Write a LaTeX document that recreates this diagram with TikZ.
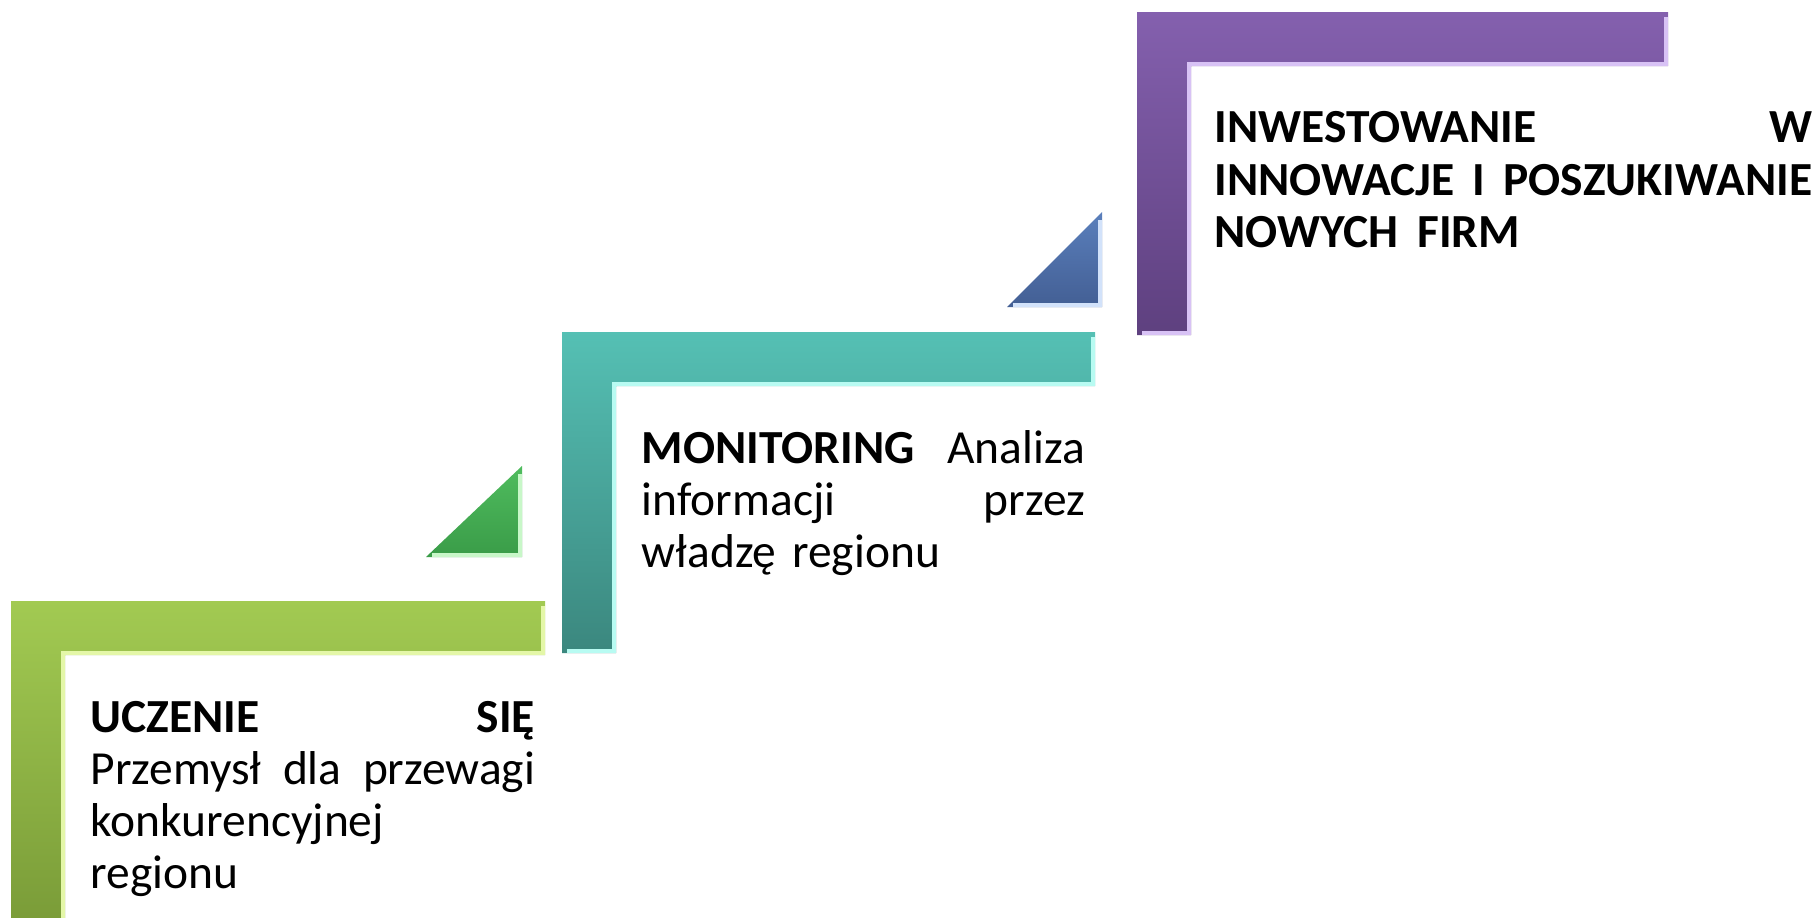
\documentclass[tikz,border=0pt]{standalone}
\usepackage{fontspec}
\setmainfont{Carlito}
\usetikzlibrary{positioning}
\definecolor{greenTop}{HTML}{A2CA52}
\definecolor{greenBot}{HTML}{7A9C38}
\definecolor{greenHi}{HTML}{E4F7A8}
\definecolor{tealTop}{HTML}{55C0B4}
\definecolor{tealBot}{HTML}{3B877E}
\definecolor{tealHi}{HTML}{B8FBF2}
\definecolor{purpleTop}{HTML}{8460AE}
\definecolor{purpleBot}{HTML}{5E407F}
\definecolor{purpleHi}{HTML}{D8C2F5}
\definecolor{leafTop}{HTML}{4FBC5E}
\definecolor{leafBot}{HTML}{3A9C48}
\definecolor{leafHi}{HTML}{C8F7C8}
\definecolor{blueTop}{HTML}{5A7FBC}
\definecolor{blueBot}{HTML}{435F94}
\definecolor{blueHi}{HTML}{D2E2FA}
\tikzstyle{stairText} = [
  anchor=base west,
  inner sep=0pt,
  align=left,
  font=\fontsize{13.5}{14.8}\selectfont]
% L-shaped step: left, top, right end, bottom, colour
\newcommand{\stairL}[5]{
  \shade[top color=#5Top, bottom color=#5Bot]
    (#1,#2) -- (#3,#2) -- (#3,#2+54) -- (#1+54,#2+54)
    -- (#1+54,#4) -- (#1,#4) -- cycle;
  \draw[#5Hi, line width=0.9pt, line join=miter]
    (#3-2,#2+5) -- (#3-2,#2+52) -- (#1+52,#2+52)
    -- (#1+52,#4-2) -- (#1+5,#4-2);
}
% small triangle: left, bottom, right, top, colour
\newcommand{\stairTri}[5]{
  \shade[top color=#5Top, bottom color=#5Bot]
    (#1,#2) -- (#3,#2) -- (#3,#4) -- cycle;
  \draw[#5Hi, line width=0.9pt]
    (#3-2,#4+8) -- (#3-2,#2-2) -- (#1+6,#2-2);
}

\begin{document}
\begin{tikzpicture}[x=0.01cm, y=-0.01cm]
  \useasboundingbox (0,0) rectangle (1820,918);
  \stairL{11}{601}{545}{922}{green}
  \stairL{562}{332}{1095}{653}{teal}
  \stairL{1137}{12}{1668}{335}{purple}
  \stairTri{426}{557}{522}{466}{leaf}
  \stairTri{1007}{307}{1102}{212}{blue}

  \node[stairText, text width=4.44cm] (learnText) at (90,732) {
    \textbf{UCZENIE}\hfill\textbf{SIĘ} \\
    Przemysł\hfill dla\hfill przewagi \\
    konkurencyjnej \\
    regionu};
  \node[stairText, text width=4.43cm] (monitorText) at (641,463) {
    \textbf{MONITORING}\hfill Analiza \\
    informacji\hfill przez \\
    władzę regionu};
  \node[stairText, text width=5.97cm] (investText) at (1214,143) {
    \textbf{INWESTOWANIE\hfill W} \\
    \textbf{INNOWACJE\hfill I\hfill POSZUKIWANIE} \\
    \textbf{NOWYCH\hspace{0.4em}FIRM}};
\end{tikzpicture}
\end{document}
